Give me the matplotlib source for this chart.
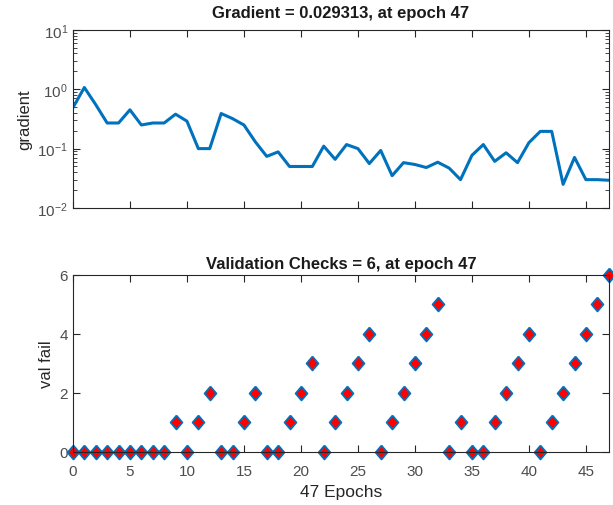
import matplotlib
matplotlib.use('Agg')
import matplotlib.pyplot as plt
import numpy as np
from matplotlib.ticker import LogLocator, FixedLocator, NullFormatter

# Daten
epochs = np.arange(48)
gradient = [0.49, 1.07, 0.55, 0.27, 0.27, 0.45, 0.25, 0.27, 0.27, 0.38,
            0.29, 0.10, 0.10, 0.39, 0.32, 0.25, 0.13, 0.074, 0.088, 0.050,
            0.050, 0.050, 0.11, 0.066, 0.117, 0.10, 0.056, 0.093, 0.035, 0.058,
            0.054, 0.048, 0.059, 0.047, 0.030, 0.077, 0.117, 0.061, 0.085, 0.058,
            0.126, 0.195, 0.195, 0.025, 0.071, 0.030, 0.030, 0.029313]
val_fail = [0, 0, 0, 0, 0, 0, 0, 0, 0, 1, 0, 1, 2, 0, 0, 1, 2, 0, 0, 1, 2, 3,
            0, 1, 2, 3, 4, 0, 1, 2, 3, 4, 5, 0, 1, 0, 0, 1, 2, 3, 4, 0, 1, 2,
            3, 4, 5, 6]

plt.rcParams['font.family'] = ['Liberation Sans', 'DejaVu Sans']
blau = '#0072BD'
grau = '#262626'
tick_grau = '#4d4d4d'

# Raute wie in MATLAB (breiter als 'd')
raute = [(0, 1), (0.85, 0), (0, -1), (-0.85, 0), (0, 1)]

fig = plt.figure(figsize=(6.13, 5.06), dpi=100)
ax1 = fig.add_axes([0.119, 0.587, 0.874, 0.352])
ax2 = fig.add_axes([0.119, 0.105, 0.874, 0.350])

# Gradient
ax1.semilogy(epochs, gradient, color=blau, linewidth=2.2)
ax1.set_xlim(0, 47)
ax1.set_ylim(1e-2, 1e1)
ax1.set_ylabel('gradient', fontsize=12, color=grau)
ax1.set_title('Gradient = 0.029313, at epoch 47', fontsize=12, fontweight='bold',
              color='#1a1a1a', pad=9)
ax1.xaxis.set_major_locator(FixedLocator(np.arange(0, 47, 5)))
ax1.xaxis.set_major_formatter(NullFormatter())
ax1.yaxis.set_major_locator(LogLocator(base=10, numticks=10))
ax1.yaxis.set_minor_locator(LogLocator(base=10, subs=np.arange(2, 10), numticks=10))

# Validation checks
ax2.plot(epochs, val_fail, linestyle='none', marker=raute, markerfacecolor='red',
         markeredgecolor=blau, markeredgewidth=1.3, markersize=10, clip_on=False)
ax2.set_xlim(0, 47)
ax2.set_ylim(0, 6)
ax2.set_yticks([0, 2, 4, 6])
ax2.set_xticks(np.arange(0, 47, 5))
ax2.set_ylabel('val fail', fontsize=12, color=grau)
ax2.set_xlabel('47 Epochs', fontsize=12.5, color=grau, labelpad=4)
ax2.set_title('Validation Checks = 6, at epoch 47', fontsize=12, fontweight='bold',
              color='#1a1a1a', pad=5)

for ax in (ax1, ax2):
    ax.tick_params(which='both', direction='in', top=True, right=True,
                   labelsize=11, labelcolor=tick_grau, color=grau)
    ax.tick_params(which='major', length=5)
    ax.tick_params(which='minor', length=3)
    ax.tick_params(axis='x', pad=9)
    for s in ax.spines.values():
        s.set_color(grau)
        s.set_linewidth(0.8)

plt.savefig('out.png', dpi=100)
plt.close()
